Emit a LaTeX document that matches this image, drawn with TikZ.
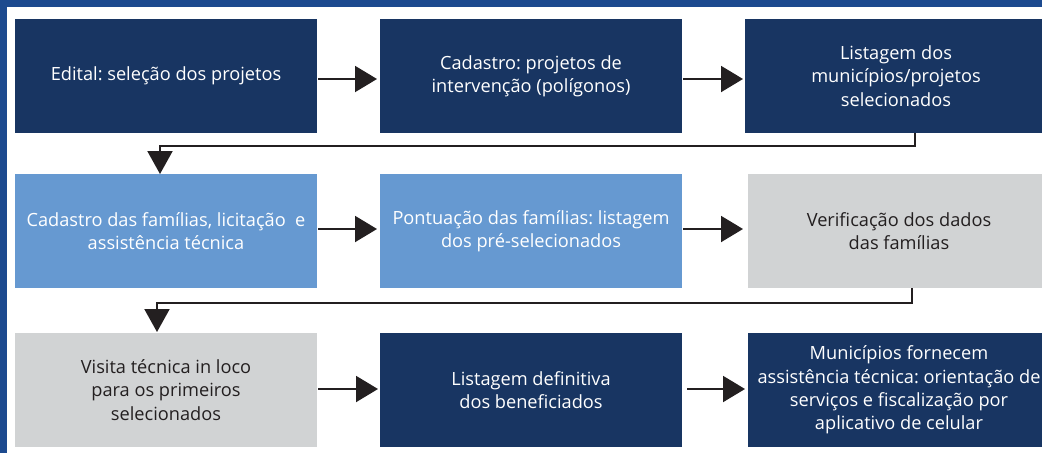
\documentclass[tikz,border=0pt]{standalone}
\usepackage{fontspec}
\setmainfont{Open Sans}
\usetikzlibrary{arrows.meta}
\definecolor{navy}{HTML}{183562}
\definecolor{lightblue}{HTML}{6699D1}
\definecolor{greybox}{HTML}{D1D3D4}
\definecolor{frameblue}{HTML}{1C4A8F}
\definecolor{ink}{HTML}{231F20}
\frenchspacing
\tikzset{
  box/.style={rectangle, inner sep=0pt, outer sep=0pt, minimum width=302pt, minimum height=114pt,
    align=center, font=\fontsize{18.2}{23.3}\selectfont},
  darkbox/.style={box, fill=navy, text=white},
  bluebox/.style={box, fill=lightblue, text=white},
  greyb/.style={box, fill=greybox, text=ink},
  arr/.style={draw=ink, line width=2pt, -{Triangle[length=22pt,width=26pt]}},
  elbow/.style={draw=ink, line width=2pt, -{Triangle[length=23pt,width=25pt]}}
}
\begin{document}
\begin{tikzpicture}[x=1pt,y=-1pt]
\useasboundingbox (0,0) rectangle (1042,453);
\clip (0,0) rectangle (1042,453);
\fill[white] (0,0) rectangle (1042,453);
\fill[frameblue] (0,0) rectangle (1042,7);
\fill[frameblue] (0,0) rectangle (7,453);
% row 1
\node[darkbox] (a1) at (166,76) {Edital: seleção dos projetos};
\node[darkbox] (a2) at (531,76) {Cadastro: projetos de\\intervenção (polígonos)};
\node[darkbox] (a3) at (896,76) {Listagem dos\\municípios/projetos\\selecionados};
% row 2
\node[bluebox] (b1) at (166,231) {Cadastro das famílias, licitação~~e\\assistência técnica};
\node[bluebox] (b2) at (531,231) {Pontuação das famílias: listagem\\dos pré-selecionados};
\node[greyb] (b3) at (899,231) {Verificação dos dados\\das famílias};
% row 3
\node[greyb] (c1) at (166,390) {Visita técnica in loco\\para os primeiros\\selecionados};
\node[darkbox] (c2) at (531,390) {Listagem definitiva\\dos beneficiados};
\node[darkbox] (c3) at (899,390) {Municípios fornecem\\assistência técnica: orientação de\\serviços e fiscalização por\\aplicativo de celular};
% arrows
\draw[arr] ([xshift=1pt,yshift=-3pt]a1.east) -- ([xshift=-3pt,yshift=-3pt]a2.west);
\draw[arr] ([xshift=1pt,yshift=-3pt]a2.east) -- ([xshift=-2pt,yshift=-3pt]a3.west);
\draw[arr] ([xshift=1pt,yshift=2pt]b1.east) -- ([xshift=-3pt,yshift=2pt]b2.west);
\draw[arr] ([xshift=1pt,yshift=2pt]b2.east) -- ([xshift=-5pt,yshift=2pt]b3.west);
\draw[arr] ([xshift=1pt,yshift=1pt]c1.east) -- ([xshift=-2pt,yshift=1pt]c2.west);
\draw[arr] ([xshift=5pt,yshift=1pt]c2.east) -- ([xshift=-3pt,yshift=1pt]c3.west);
\draw[elbow] ([xshift=19pt]a3.south) -- ++(0,13) -| ([xshift=-6pt]b1.north);
\draw[elbow] ([xshift=13pt]b3.south) -- ++(0,15) -| ([xshift=-9pt,yshift=1pt]c1.north);
\end{tikzpicture}
\end{document}
